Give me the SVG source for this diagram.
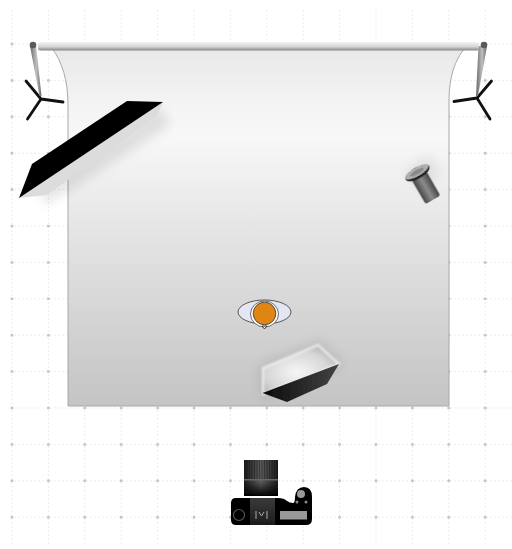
<svg xmlns="http://www.w3.org/2000/svg" width="512" height="549" viewBox="0 0 512 549">
<defs>
<linearGradient id="bd" x1="0" y1="0" x2="0" y2="1"><stop offset="0" stop-color="#e8e8e8"/><stop offset="0.13" stop-color="#f2f2f2"/><stop offset="0.24" stop-color="#f8f8f8"/><stop offset="0.55" stop-color="#e2e2e2"/><stop offset="1" stop-color="#c4c4c4"/></linearGradient>
<linearGradient id="bar" x1="0" y1="0" x2="0" y2="1"><stop offset="0" stop-color="#f4f4f4"/><stop offset="0.55" stop-color="#d6d6d6"/><stop offset="1" stop-color="#858585"/></linearGradient>
<linearGradient id="pole" x1="0" y1="0" x2="1" y2="0"><stop offset="0" stop-color="#666"/><stop offset="0.55" stop-color="#c0c0c0"/><stop offset="1" stop-color="#666"/></linearGradient>
<linearGradient id="flash" x1="0" y1="0" x2="1" y2="0"><stop offset="0" stop-color="#444"/><stop offset="0.5" stop-color="#8c8c8c"/><stop offset="1" stop-color="#444"/></linearGradient>
<radialGradient id="soft" cx="0.45" cy="0.55" r="0.6"><stop offset="0" stop-color="#f6f6f6"/><stop offset="0.7" stop-color="#d6d6d6"/><stop offset="1" stop-color="#b4b4b4"/></radialGradient>
<linearGradient id="softdark" x1="0" y1="0" x2="1" y2="0"><stop offset="0" stop-color="#0a0a0a"/><stop offset="1" stop-color="#444"/></linearGradient>
<linearGradient id="lens" x1="0" y1="0" x2="1" y2="0"><stop offset="0" stop-color="#1c1c1c"/><stop offset="0.5" stop-color="#5a5a5a"/><stop offset="1" stop-color="#1c1c1c"/></linearGradient>
<linearGradient id="lens2" x1="0" y1="0" x2="0" y2="1"><stop offset="0" stop-color="#000" stop-opacity="0"/><stop offset="1" stop-color="#000"/></linearGradient>
<linearGradient id="vf" x1="0" y1="0" x2="0" y2="1"><stop offset="0" stop-color="#3a3a3a"/><stop offset="1" stop-color="#1c1c1c"/></linearGradient>
<filter id="b1" x="-40%" y="-40%" width="180%" height="180%"><feGaussianBlur stdDeviation="6"/></filter>
<filter id="b0" x="-10%" y="-10%" width="120%" height="120%"><feGaussianBlur stdDeviation="0.5"/></filter>
<filter id="b2" x="-10%" y="-10%" width="120%" height="120%"><feGaussianBlur stdDeviation="1"/></filter>
</defs>
<style>.g{stroke:#ededed;stroke-width:1;stroke-dasharray:2 2;fill:none}.d{stroke:#c4c4c4;stroke-width:2.500;stroke-linecap:butt;stroke-dasharray:2.500 33.900;fill:none}.l{stroke:#111;stroke-width:2.800;stroke-linecap:round;fill:none}</style>
<rect width="512" height="549" fill="#fff"/>
<g id="grid"><path class="g" d="M12 10V546M48.400 10V546M84.800 10V546M121.200 10V546M157.600 10V546M194 10V546M230.400 10V546M266.800 10V546M303.200 10V546M339.600 10V546M376 10V546M412.400 10V546M448.800 10V546M485.200 10V546"/><path class="g" d="M10 44H512M10 80.400H512M10 116.800H512M10 153.200H512M10 189.600H512M10 226H512M10 262.400H512M10 298.800H512M10 335.200H512M10 371.600H512M10 408H512M10 444.400H512M10 480.800H512M10 517.200H512"/><path class="d" d="M10.750 44H512M10.750 80.400H512M10.750 116.800H512M10.750 153.200H512M10.750 189.600H512M10.750 226H512M10.750 262.400H512M10.750 298.800H512M10.750 335.200H512M10.750 371.600H512M10.750 408H512M10.750 444.400H512M10.750 480.800H512M10.750 517.200H512"/></g>
<g id="backdrop"><path d="M52 48H465C455 60 449 76 449 102V406H68V105C68 80 62 62 52 48Z" fill="url(#bd)" stroke="#a8a8a8" stroke-width="1"/></g>
<g id="stand-left"><path class="l" d="M41 99L26 81M41 99L27.500 119M41 99L63 102"/><path d="M30 46L36 46L41.500 96L39.500 96Z" fill="url(#pole)" filter="url(#b0)"/><circle cx="33" cy="45" r="3.300" fill="#5a5a5a" filter="url(#b0)"/></g>
<g id="stand-right"><path class="l" d="M477 98L491.500 81M477 98L490 119M477 98L454 101.500"/><path d="M478.500 46L487 46L478 96L476 96Z" fill="url(#pole)" filter="url(#b0)"/><circle cx="484" cy="45" r="3.300" fill="#5a5a5a" filter="url(#b0)"/></g>
<g id="bar-group"><rect x="38" y="42" width="441" height="8.500" rx="2" fill="url(#bar)" filter="url(#b0)"/></g>
<g id="strip-softbox"><path d="M45 205L170 125L160 108L40 190Z" fill="#000" opacity="0.1" filter="url(#b1)"/><path d="M19 198L47 195L157 116L163 102Z" fill="#dcdcdc" filter="url(#b0)"/><path d="M19 198L32 164L127 101L163 102Z" fill="#000" filter="url(#b0)"/></g>
<g id="flash-head"><path d="M405 170L430 155L440 175L420 190Z" fill="#000" opacity="0.07" filter="url(#b1)"/><g transform="translate(417.500 173) rotate(-30)" filter="url(#b0)"><rect x="-8.500" y="3" width="17" height="28" rx="2.500" fill="url(#flash)"/><ellipse cx="0" cy="0" rx="13.500" ry="5.500" fill="#1c1c1c"/><ellipse cx="0" cy="-1.200" rx="13" ry="4.300" fill="#b0b0b0"/><ellipse cx="0" cy="-1" rx="8" ry="2.200" fill="#8a8a8a"/></g></g>
<g id="subject"><ellipse cx="264.500" cy="312" rx="26.500" ry="12" fill="#e4e6f4" stroke="#555" stroke-width="1"/><ellipse cx="264.500" cy="314" rx="14" ry="13" fill="#fff" stroke="#333" stroke-width="0.7"/><path d="M262 326L264.500 329L267 326Z" fill="#fff" stroke="#333"/><circle cx="264.500" cy="313.500" r="11.300" fill="#df8514" stroke="#333" stroke-width="0.8"/></g>
<g id="softbox"><path d="M258 366L320 340L345 365L262 400Z" fill="#000" opacity="0.09" filter="url(#b1)"/><path d="M263 368L318 345L339 364L263 394Z" fill="url(#soft)" stroke="#efefef" stroke-width="2" filter="url(#b2)"/><path d="M262.500 393L339 364L327 384L287 402Z" fill="url(#softdark)" filter="url(#b0)"/></g>
<g id="camera" filter="url(#b0)"><rect x="244" y="460" width="34" height="36" fill="url(#lens)"/><path d="M244 469.500H278" stroke="#000" stroke-width="19" stroke-dasharray="1 1.500" opacity="0.3" fill="none"/><rect x="244" y="479" width="34" height="1.500" fill="#666"/><rect x="244" y="482" width="34" height="14" fill="url(#lens2)"/><path d="M236 498H278Q284 498 287 501Q290 503 293 503Q295 503 295 497Q296 487 304 487Q312 487 312 497V519Q312 525 306 525H236Q231 525 231 520V503Q231 498 236 498Z" fill="#000"/><rect x="250" y="498" width="25" height="27" fill="url(#vf)"/><circle cx="239" cy="515" r="5.500" fill="none" stroke="#555" stroke-width="1.200"/><circle cx="301" cy="494" r="4" fill="#999"/><circle cx="297" cy="502" r="1.500" fill="#888"/><circle cx="306" cy="502" r="1.500" fill="#888"/><rect x="280" y="511" width="27" height="8.500" fill="#999"/><path d="M256 511V519M267 511V519M259 512L261.500 516L264 512" stroke="#aaa" stroke-width="1" fill="none"/></g>
</svg>
